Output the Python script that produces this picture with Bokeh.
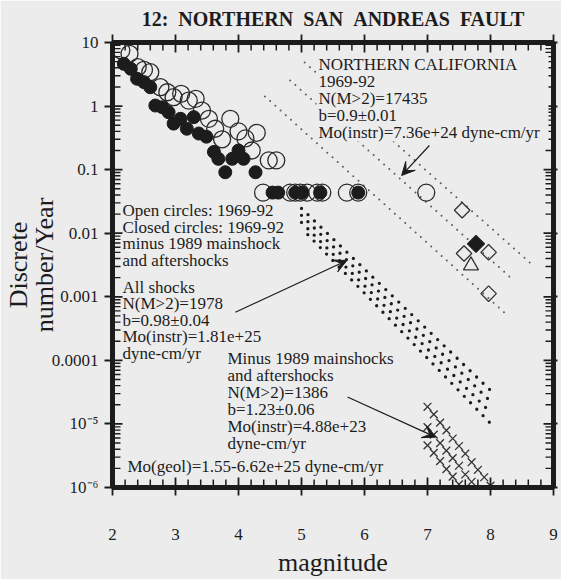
import numpy as np
from bokeh.plotting import figure
from bokeh.models import (Range1d, FixedTicker, SingleIntervalTicker, LinearAxis, LogAxis,
                          CustomJSTickFormatter, Label, Arrow, VeeHead, BoxAnnotation)
from bokeh.embed import file_html
from bokeh.resources import INLINE

# ---------------- data ----------------
# Discrete number of events per year in 0.1-magnitude bins, 1969-92 (all events)
open_mag = [2.14, 2.27, 2.40, 2.50, 2.60, 2.76, 2.87, 2.97, 3.09, 3.21, 3.32, 3.42,
            3.53, 3.63, 3.74, 3.87, 4.00, 4.11, 4.21, 4.29, 4.48, 4.60,
            4.39, 4.82, 4.90, 4.98, 5.09, 5.25, 5.33, 5.72, 5.90, 6.98]
open_rate = [7.48, 6.64, 4.09, 3.72, 3.41, 1.98, 1.65, 1.38, 1.56, 1.22, 1.30, 0.85,
             0.63, 0.44, 0.30, 0.63, 0.40, 0.31, 0.20, 0.38, 0.14, 0.14,
             0.0435, 0.0435, 0.0435, 0.0435, 0.0435, 0.0435, 0.0435, 0.0435, 0.0435, 0.0435]

# 1969-92 minus the 1989 mainshock and its aftershocks
closed_mag = [2.18, 2.29, 2.39, 2.50, 2.60, 2.68, 2.79, 2.89, 2.97, 3.08, 3.18, 3.29,
              3.37, 3.49, 3.61, 3.68, 3.79, 3.90, 4.00, 4.08, 4.27,
              4.54, 4.63, 4.90, 5.01, 5.30, 5.90]
closed_rate = [4.62, 3.86, 2.69, 2.38, 1.98, 1.02, 0.96, 0.80, 0.53, 0.63, 0.44, 0.67,
               0.37, 0.33, 0.19, 0.148, 0.091, 0.148, 0.20, 0.148, 0.091,
               0.0435, 0.0435, 0.0435, 0.0435, 0.0435, 0.0435]

# Large historical events (northern California)
hist_open_mag = [7.55, 7.58, 7.97, 7.97]
hist_open_rate = [0.023, 0.0048, 0.0050, 0.00112]
hist_fill_mag = [7.77]
hist_fill_rate = [0.0068]
hist_tri_mag = [7.69]
hist_tri_rate = [0.0031]

# Northern California 1969-92 fits (start/end magnitude, start/end rate)
nc_m0 = [5.05, 4.82, 4.42]
nc_r0 = [4.85, 2.53, 1.42]
nc_m1 = [8.64, 8.37, 8.27]
nc_r1 = [0.00335, 0.00181, 0.00051]

# All shocks: extrapolated discrete rates, M5-M8
all_m0 = [5.0, 5.0, 5.0, 5.1]
all_r0 = [0.0245, 0.0191, 0.0148, 0.0095]
all_m1 = [8.0, 8.0, 8.0, 8.0]
all_r1 = [3.37e-5, 2.26e-5, 1.52e-5, 1.02e-5]

# Minus 1989 mainshocks and aftershocks: extrapolated discrete rates
minus_mag_a = [7.0, 7.1, 7.2, 7.3, 7.4, 7.5, 7.6, 7.7, 7.8, 7.9, 8.0]
minus_rate_a = [1.86e-5, 1.41e-5, 1.05e-5, 7.9e-6, 5.9e-6, 4.5e-6, 3.4e-6, 2.5e-6, 1.9e-6, 1.45e-6, 1.07e-6]
minus_mag_b = [7.0, 7.1, 7.2, 7.3, 7.4, 7.5, 7.6, 7.7]
minus_rate_b = [8.9e-6, 6.8e-6, 5.0e-6, 3.8e-6, 2.9e-6, 2.2e-6, 1.6e-6, 1.23e-6]
minus_mag_c = [7.0, 7.1, 7.2, 7.3, 7.4, 7.5]
minus_rate_c = [4.6e-6, 3.5e-6, 2.6e-6, 1.95e-6, 1.48e-6, 1.12e-6]

ytick_values = [1e-6, 1e-5, 1e-4, 1e-3, 1e-2, 1e-1, 1, 10]
ytick_labels = ["10\u207b\u2076", "10\u207b\u2075", "0.0001", "0.001", "0.01", "0.1", "1", "10"]

norcal_text = ["NORTHERN CALIFORNIA", "1969-92", "N(M>2)=17435", "b=0.9\u00b10.01",
               "Mo(instr)=7.36e+24 dyne-cm/yr"]
legend_text = ["Open circles: 1969-92", "Closed circles: 1969-92", "minus 1989 mainshock",
               "and aftershocks"]
all_text = ["All shocks", "N(M>2)=1978", "b=0.98\u00b10.04", "Mo(instr)=1.81e+25", "dyne-cm/yr"]
minus_text = ["Minus 1989 mainshocks", "and aftershocks", "N(M>2)=1386", "b=1.23\u00b10.06",
              "Mo(instr)=4.88e+23", "dyne-cm/yr"]
geol_text = "Mo(geol)=1.55-6.62e+25 dyne-cm/yr"
title_text = "12:\u2002NORTHERN\u2002SAN\u2002ANDREAS\u2002FAULT"

# ---------------- figure ----------------
BG = "#ececec"
INK = "#1c1c1c"
SERIF = "Liberation Serif"

W, H = 561, 579
L, R, T, B = 112, 8, 42, 92
X0, X1, Y0, Y1 = 2, 9, 1e-6, 10
PX_X = (W - L - R) / (X1 - X0)               # pixels per magnitude unit
PX_Y = (H - T - B) / np.log10(Y1 / Y0)       # pixels per decade

p = figure(width=W, height=H, x_range=Range1d(X0, X1), y_range=Range1d(Y0, Y1),
           y_axis_type="log", output_backend="svg", toolbar_location=None,
           min_border_left=L, min_border_right=R, min_border_top=T, min_border_bottom=B,
           background_fill_color=BG, border_fill_color=BG)
p.grid.visible = False
p.outline_line_color = INK
p.outline_line_width = 4

p.title.text = title_text
p.title.align = "center"
p.title.offset = -6
p.title.standoff = 9
p.title.text_font = SERIF
p.title.text_font_size = "20px"
p.title.text_font_style = "bold"
p.title.text_color = INK

minor_y = [k * 10.0 ** e for e in range(-6, 1) for k in range(2, 10)]
major_x = list(range(X0 + 1, X1))
minor_x = [X0 + 0.2 * i for i in range(1, 35) if i % 5]
yticker = FixedTicker(ticks=ytick_values, minor_ticks=minor_y)
xticker = SingleIntervalTicker(interval=1, num_minor_ticks=5)
blank = CustomJSTickFormatter(code="return ''")


def style_axis(ax, tick_out):
    ax.axis_line_width = 5
    ax.axis_line_color = INK
    ax.major_tick_line_color = INK
    ax.major_tick_line_width = 1.8
    ax.major_tick_out = tick_out
    ax.major_tick_in = 0
    ax.minor_tick_out = 0
    ax.minor_tick_in = 0
    ax.major_label_text_font = SERIF
    ax.major_label_text_font_size = "17px"
    ax.major_label_text_color = INK
    ax.axis_label_text_font = SERIF
    ax.axis_label_text_font_size = "26px"
    ax.axis_label_text_font_style = "normal"
    ax.axis_label_text_color = INK


xa = p.xaxis[0]
xa.ticker = xticker
style_axis(xa, 8)
xa.major_label_standoff = 33
xa.axis_label = "magnitude"
xa.axis_label_standoff = 5

ya = p.yaxis[0]
ya.ticker = yticker
style_axis(ya, 8)
ya.major_label_standoff = 6
ya.formatter = CustomJSTickFormatter(args=dict(labels=ytick_labels),
                                     code="return labels[Math.round(Math.log10(tick)) + 6];")
ya.axis_label = "number/Year"
ya.axis_label_standoff = -10

# outer caption line of the y axis
ya2 = LogAxis(ticker=FixedTicker(ticks=[]), formatter=blank, axis_label="Discrete")
style_axis(ya2, 0)
ya2.axis_line_color = None
ya2.major_label_text_font_size = "0px"
ya2.major_label_standoff = 0
ya2.axis_label_standoff = -6
p.add_layout(ya2, "left")

top = LinearAxis(ticker=xticker, formatter=blank)
style_axis(top, 8)
top.major_label_standoff = 0
top.major_label_text_font_size = "0px"
p.add_layout(top, "above")

right = LogAxis(ticker=yticker, formatter=blank)
style_axis(right, 4)
right.major_label_standoff = 0
right.major_label_text_font_size = "0px"
p.add_layout(right, "right")

# ---------------- model lines ----------------
for m0, r0, m1, r1 in zip(nc_m0, nc_r0, nc_m1, nc_r1):
    p.line([m0, m1], [r0, r1], line_color="#5a5a5a", line_width=2.0,
           line_dash="0 7", line_cap="round")

for m0, r0, m1, r1 in zip(all_m0, all_r0, all_m1, all_r1):
    p.line([m0, m1], [r0, r1], line_color=INK, line_width=3.3,
           line_dash="0 9", line_cap="round")

for mm, rr in ((minus_mag_a, minus_rate_a), (minus_mag_b, minus_rate_b), (minus_mag_c, minus_rate_c)):
    p.scatter(mm, rr, marker="x", size=11, line_color="#333333", line_width=1.3)

# ---------------- observations ----------------
p.scatter(open_mag, open_rate, marker="circle", size=17, fill_color=None,
          line_color="#2a2a2a", line_width=1.3)
p.scatter(closed_mag, closed_rate, marker="circle", size=13, fill_color=INK,
          line_color=INK, line_width=1)

p.scatter(hist_open_mag, hist_open_rate, marker="square", angle=np.pi / 4, size=11,
          fill_color=None, line_color="#333333", line_width=1.3)
p.scatter(hist_fill_mag, hist_fill_rate, marker="square", angle=np.pi / 4, size=12,
          fill_color=INK, line_color=INK, line_width=1.3)
p.scatter(hist_tri_mag, hist_tri_rate, marker="triangle", size=15,
          fill_color=None, line_color="#333333", line_width=1.3)

# inward tick marks on all four sides, drawn as short dash markers just inside the frame
def inward_xticks(xs, length, width):
    half = 10 ** (length / 2 / PX_Y)
    n = len(xs)
    for yy in (Y0 * half, Y1 / half):
        p.scatter(xs, [yy] * n, marker="dash", angle=np.pi / 2, size=length,
                  line_color=INK, line_width=width)


def inward_yticks(ys, length, width):
    half = length / 2 / PX_X
    n = len(ys)
    for xx in (X0 + half, X1 - half):
        p.scatter([xx] * n, ys, marker="dash", size=length,
                  line_color=INK, line_width=width)


inward_xticks(minor_x, 8, 1.5)
inward_xticks(major_x, 10, 1.8)
inward_yticks(minor_y, 8, 1.4)
inward_yticks(ytick_values, 10, 1.8)

# ---------------- annotations ----------------
def add_lines(lines, x, y, step, size="17px"):
    """Stack text lines; x,y are canvas pixels (left edge, centre of first line)."""
    for i, t in enumerate(lines):
        p.add_layout(Label(x=x - L, y=(H - B) - (y + i * step), x_units="screen", y_units="screen",
                           text=t, text_font=SERIF, text_font_size=size,
                           text_color=INK, text_align="left", text_baseline="middle"))


# panel behind the northern California block hides the fit lines there
p.add_layout(BoxAnnotation(left=316 - L, right=548 - L, top=(H - B) - 55, bottom=(H - B) - 141,
                           left_units="screen", right_units="screen",
                           top_units="screen", bottom_units="screen",
                           fill_color=BG, fill_alpha=1.0, line_color=None))

add_lines(norcal_text, 318, 64, 17)
add_lines(legend_text, 122, 210, 16.7)
add_lines(all_text, 122, 287, 16.4)
add_lines(minus_text, 227, 358, 17)
add_lines([geol_text], 127, 466, 17)

p.add_layout(Arrow(x_start=7.03, y_start=0.24, x_end=6.59, y_end=0.081, line_width=1.2,
                   line_color=INK, end=VeeHead(size=13, fill_color=INK, line_color=INK)))
p.add_layout(Arrow(x_start=3.95, y_start=5.7e-4, x_end=5.72, y_end=3.73e-3, line_width=1.2,
                   line_color=INK, end=VeeHead(size=13, fill_color=INK, line_color=INK)))
p.add_layout(Arrow(x_start=5.73, y_start=2.65e-5, x_end=7.13, y_end=6.2e-6, line_width=1.2,
                   line_color=INK, end=VeeHead(size=13, fill_color=INK, line_color=INK)))

open("out.html", "w").write(file_html(p, INLINE))
